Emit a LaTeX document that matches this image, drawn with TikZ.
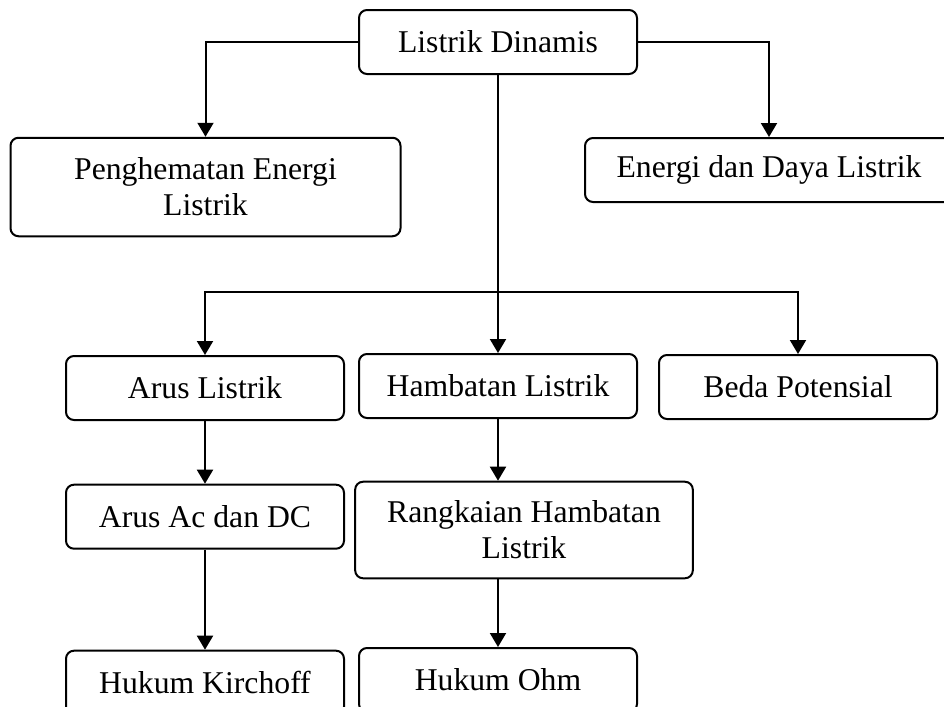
\documentclass[tikz,border=0pt]{standalone}
\usepackage{fontspec}
\setmainfont{Liberation Serif}
\usepackage{tikz}
\usetikzlibrary{shapes.geometric, arrows.meta, positioning}
\tikzstyle{topic} = [rectangle,
rounded corners=4pt,
minimum width=139pt,
minimum height=32pt,
text centered,
align=center,
draw=black,
line width=1pt,
font=\fontsize{15.85}{18}\selectfont]
\tikzstyle{arrow} = [line width=1pt,-{Triangle[length=7pt,width=8pt]}]
\tikzstyle{branch} = [line width=1pt]

\begin{document}
\begin{tikzpicture}[x=0.5pt, y=-0.5pt]
            \useasboundingbox (0,0) rectangle (944,707);
            \clip (0,0) rectangle (944,707);
            \node (dinamis) [topic] at (498,42) {Listrik Dinamis};
            \node (hemat) [topic, minimum width=195pt, minimum height=49.25pt] at (205.5,187) {Penghematan Energi\\Listrik};
            \node (energi) [topic, minimum width=184pt] at (769,170) {Energi dan Daya Listrik};
            \coordinate (split) at (498,292);

            \node (arus) [topic] at (205,388) {Arus Listrik};
            \node (hambatan) [topic] at (498,386) {Hambatan Listrik};
            \node (beda) [topic] at (798,387) {Beda Potensial};

            \node (arusac) [topic, below=31.35pt of arus] {Arus Ac dan DC};
            \node (kirchoff) [topic, below=50pt of arusac] {Hukum Kirchoff};
            \node (rangkaian) [topic, minimum width=168.85pt, minimum height=48.3pt] at (524,530) {Rangkaian Hambatan\\Listrik};
            \node (ohm) [topic] at (498,680) {Hukum Ohm};

            \draw [arrow] (dinamis.west) -| (hemat.north);
            \draw [arrow] (dinamis.east) -| (energi.north);
            \draw [branch] (dinamis) -- (split);
            \draw [arrow] (split) -| (arus.north);
            \draw [arrow] (split) -- (hambatan);
            \draw [arrow] (split) -| (beda.north);
            \draw [arrow] (arus) -- (arusac);
            \draw [arrow] (arusac) -- (kirchoff);
            \draw [arrow] (hambatan) -- (hambatan.south |- rangkaian.north);
            \draw [arrow] (hambatan.south |- rangkaian.south) -- (ohm);
        \end{tikzpicture}
\end{document}
